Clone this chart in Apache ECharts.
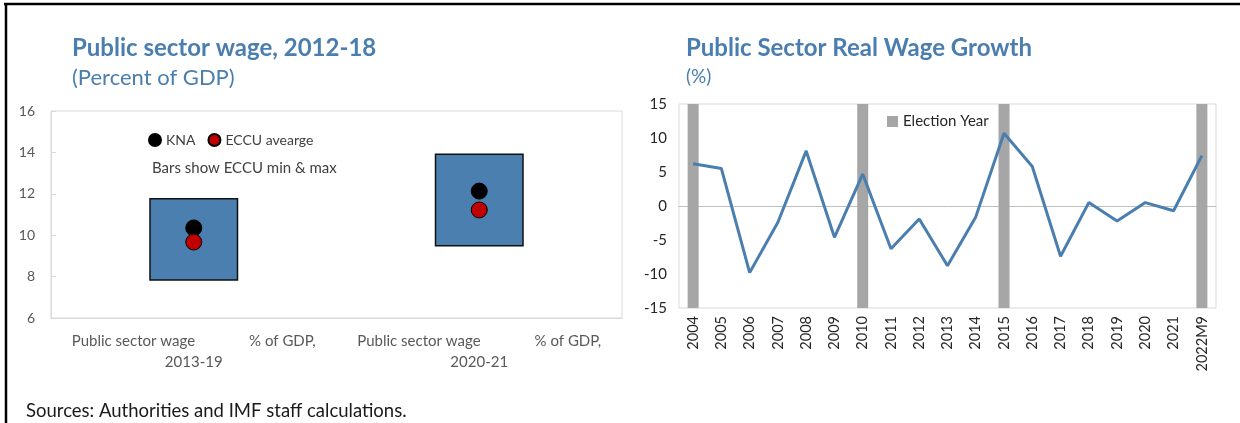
<!DOCTYPE html>
<html>
<head>
<meta charset="utf-8">
<style>
  html, body { margin: 0; padding: 0; background: #fff; }
  #chart { width: 1240px; height: 423px; }
</style>
<script src="https://cdn.jsdelivr.net/npm/echarts@6/dist/echarts.min.js"></script>
</head>
<body>
<div id="chart"></div>
<script>
// left panel: public sector wage, % of GDP
var wagePeriods = ['2013-19', '2020-21'];
var eccuMin = [7.8, 9.45];
var eccuMax = [11.8, 13.95];
var knaWage = [10.35, 12.13];
var eccuAvg = [9.67, 11.22];

// right panel: real wage growth
var years = ['2004', '2005', '2006', '2007', '2008', '2009', '2010', '2011', '2012', '2013',
             '2014', '2015', '2016', '2017', '2018', '2019', '2020', '2021', '2022M9'];
var realWageGrowth = [6.2, 5.5, -9.8, -2.4, 8.1, -4.6, 4.7, -6.3, -1.9, -8.8,
                      -1.6, 10.7, 5.8, -7.4, 0.5, -2.2, 0.5, -0.7, 7.4];
var electionYears = ['2004', '2010', '2015', '2022M9'];

var blue = '#4a7eaf';
var font = 'Lato, "Open Sans", sans-serif';

// 选举年的灰色条，覆盖整个y轴范围
var electionUp = years.map(function (y) { return electionYears.indexOf(y) >= 0 ? 15 : null; });
var electionDown = years.map(function (y) { return electionYears.indexOf(y) >= 0 ? -15 : null; });
var rangeSize = eccuMax.map(function (v, i) { return +(v - eccuMin[i]).toFixed(2); });

var chart = echarts.init(document.getElementById('chart'));
var option = {
  animation: false,
  textStyle: { fontFamily: font },
  title: [
    { text: 'Public sector wage, 2012-18', left: 67, top: 31,
      textStyle: { color: blue, fontSize: 24, fontWeight: 'bold', fontFamily: font } },
    { text: '(Percent of GDP)', left: 67, top: 62,
      textStyle: { color: blue, fontSize: 22, fontWeight: 'normal', fontFamily: font } },
    { text: 'Public Sector Real Wage Growth', left: 681, top: 31,
      textStyle: { color: blue, fontSize: 24, fontWeight: 'bold', fontFamily: font } },
    { text: '(%)', left: 681, top: 62,
      textStyle: { color: blue, fontSize: 19, fontWeight: 'normal', fontFamily: font } },
    { text: 'Bars show ECCU min & max', left: 147, top: 156,
      textStyle: { color: '#404040', fontSize: 15, fontWeight: 'normal', fontFamily: font } },
    { text: 'Sources: Authorities and IMF staff calculations.', left: 21, top: 397,
      textStyle: { color: '#1a1a1a', fontSize: 18.5, fontWeight: 'normal', fontFamily: font } }
  ],
  legend: [
    { data: ['KNA', 'ECCU avearge'], left: 143, top: 128, icon: 'circle',
      itemWidth: 12, itemHeight: 12, itemGap: 12,
      textStyle: { color: '#404040', fontSize: 14, fontFamily: font } },
    { data: ['Election Year'], left: 882, top: 109, icon: 'rect',
      itemWidth: 11, itemHeight: 11, itemGap: 5,
      textStyle: { color: '#262626', fontSize: 15, fontFamily: font } }
  ],
  grid: [
    { left: 51, top: 111, width: 571, height: 207, show: true, borderColor: '#d9d9d9', borderWidth: 1 },
    { left: 679, top: 104, width: 537, height: 204, show: true, borderColor: '#d9d9d9', borderWidth: 1 }
  ],
  xAxis: [
    { type: 'category', gridIndex: 0, data: wagePeriods,
      axisLine: { lineStyle: { color: '#d9d9d9' } },
      axisTick: { inside: true, length: 6, lineStyle: { color: '#d9d9d9' } },
      axisLabel: {
        interval: 0, margin: 13, color: '#595959', fontSize: 15, lineHeight: 21,
        formatter: function (v) {
          return '{t|Public sector wage}{gap|}{t|% of GDP,}\n{t|' + v + '}';
        },
        rich: { t: { color: '#595959', fontSize: 15, fontFamily: font }, gap: { width: 54 } }
      } },
    { type: 'category', gridIndex: 1, data: years,
      axisLine: { show: false, onZero: false },
      axisTick: { show: false },
      axisLabel: { rotate: 90, margin: 8, color: '#262626', fontSize: 14.5, interval: 0 } },
    { type: 'category', gridIndex: 1, data: years,
      axisLine: { onZero: true, lineStyle: { color: '#bfbfbf' } },
      axisTick: { inside: true, length: 5, lineStyle: { color: '#bfbfbf' } },
      axisLabel: { show: false } }
  ],
  yAxis: [
    { type: 'value', gridIndex: 0, min: 6, max: 16, interval: 2,
      axisLine: { show: true, lineStyle: { color: '#d9d9d9' } },
      axisTick: { show: true, inside: true, length: 5, lineStyle: { color: '#d9d9d9' } },
      splitLine: { show: false },
      axisLabel: { color: '#595959', fontSize: 14, margin: 16 } },
    { type: 'value', gridIndex: 1, min: -15, max: 15, interval: 5,
      axisLine: { show: false }, axisTick: { show: false },
      splitLine: { show: false },
      axisLabel: { color: '#262626', fontSize: 15, margin: 12 } }
  ],
  series: [
    { name: 'min', type: 'bar', xAxisIndex: 0, yAxisIndex: 0, stack: 'range',
      barWidth: 89, data: eccuMin, itemStyle: { color: 'transparent' }, silent: true },
    { name: 'ECCU range', type: 'bar', xAxisIndex: 0, yAxisIndex: 0, stack: 'range',
      barWidth: 89, data: rangeSize,
      itemStyle: { color: '#4a7fb0', borderColor: '#111', borderWidth: 1.5 } },
    { name: 'KNA', type: 'scatter', xAxisIndex: 0, yAxisIndex: 0, data: knaWage,
      symbol: 'circle', symbolSize: 16, z: 5,
      itemStyle: { color: '#000', borderColor: '#000', borderWidth: 1, opacity: 1 } },
    { name: 'ECCU avearge', type: 'scatter', xAxisIndex: 0, yAxisIndex: 0, data: eccuAvg,
      symbol: 'circle', symbolSize: 16, z: 6,
      itemStyle: { color: '#c00000', borderColor: '#000', borderWidth: 1, opacity: 1 } },
    { name: 'Election Year', type: 'bar', xAxisIndex: 1, yAxisIndex: 1, stack: 'elect',
      barWidth: 11, data: electionUp, itemStyle: { color: '#a6a6a6' } },
    { name: 'Election Year ', type: 'bar', xAxisIndex: 1, yAxisIndex: 1, stack: 'elect',
      barWidth: 11, data: electionDown, itemStyle: { color: '#a6a6a6' } },
    { name: 'Real wage growth', type: 'line', xAxisIndex: 1, yAxisIndex: 1, data: realWageGrowth,
      symbol: 'none', z: 5, lineStyle: { color: blue, width: 3 } }
  ],
  graphic: [
    { type: 'line', shape: { x1: 4, y1: 4, x2: 1240, y2: 4 }, style: { stroke: '#000', lineWidth: 2.5 } },
    { type: 'line', shape: { x1: 6, y1: 3, x2: 6, y2: 423 }, style: { stroke: '#000', lineWidth: 2.5 } }
  ]
};
chart.setOption(option);
</script>
</body>
</html>
